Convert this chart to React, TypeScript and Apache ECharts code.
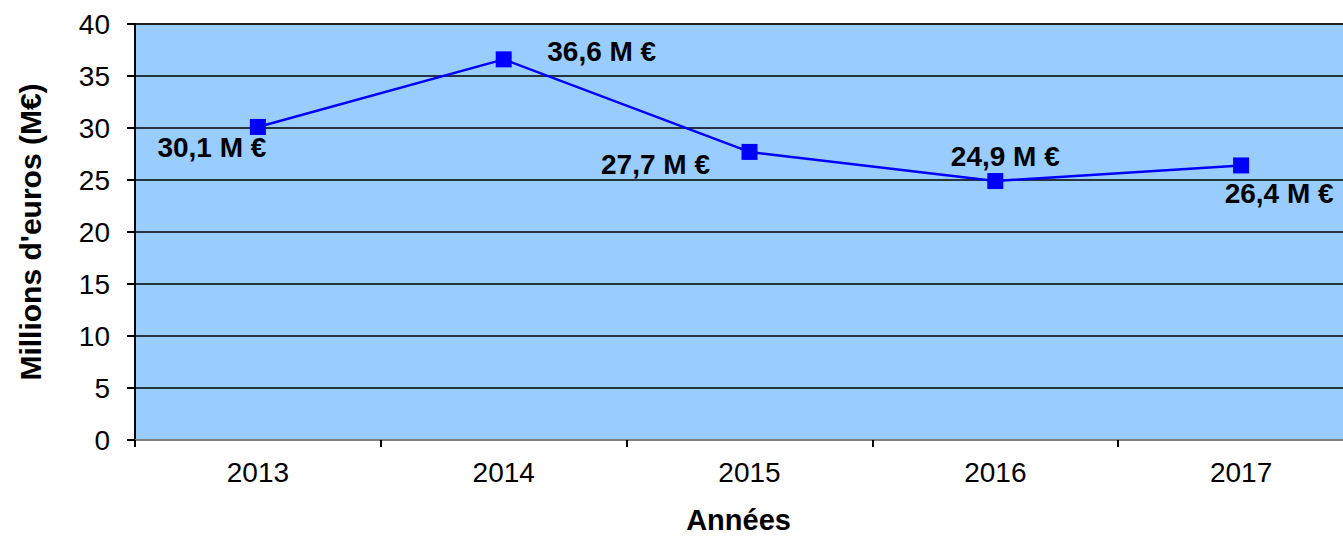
import React, { useEffect, useRef } from "react";
import * as echarts from "echarts";

const categories = ["2013", "2014", "2015", "2016", "2017"];
const values = [30.1, 36.6, 27.7, 24.9, 26.4];
const labels = ["30,1 M €", "36,6 M €", "27,7 M €", "24,9 M €", "26,4 M €"];
const labelOffsets: [number, number][] = [
  [-46, 21],
  [98, -8],
  [-94, 13],
  [10, -25],
  [38, 28],
];
const yTicks = { min: 0, max: 40, interval: 5 };

const FONT = "'Liberation Sans', Arial, sans-serif";

export default function App() {
  const ref = useRef<HTMLDivElement>(null);
  useEffect(() => {
    if (!ref.current) return;
    const chart = echarts.init(ref.current, undefined, { renderer: "svg" });
    chart.setOption({
      animation: false,
      backgroundColor: "#ffffff",
      grid: {
        left: 135,
        top: 24,
        width: 1229,
        height: 416,
        show: true,
        backgroundColor: "#99CCFF",
        borderColor: "#808080",
        borderWidth: 2,
        containLabel: false,
        outerBoundsMode: "none",
      },
      xAxis: {
        type: "category",
        data: categories,
        boundaryGap: true,
        name: "Années",
        nameLocation: "middle",
        nameGap: 65,
        nameTextStyle: {
          fontFamily: FONT,
          fontSize: 29,
          fontWeight: "bold",
          color: "#000",
          padding: [0, 22, 0, 0],
        },
        axisLine: { show: true, lineStyle: { color: "#808080", width: 2 } },
        axisTick: { show: true, length: 7, interval: 0, lineStyle: { color: "#000", width: 2 } },
        axisLabel: { fontFamily: FONT, fontSize: 28, color: "#000", margin: 18 },
        splitLine: { show: false },
      },
      yAxis: {
        type: "value",
        min: yTicks.min,
        max: yTicks.max,
        interval: yTicks.interval,
        name: "Millions d'euros (M€)",
        nameLocation: "middle",
        nameGap: 90,
        nameTextStyle: { fontFamily: FONT, fontSize: 30, fontWeight: "bold", color: "#000" },
        axisLine: { show: true, lineStyle: { color: "#000", width: 2 } },
        axisTick: { show: true, length: 8, lineStyle: { color: "#000", width: 2 } },
        axisLabel: { fontFamily: FONT, fontSize: 28, color: "#000", margin: 25 },
        splitLine: { show: true, lineStyle: { color: "#000", width: 1.5 } },
      },
      series: [
        {
          type: "line",
          data: values.map((v, i) => ({
            value: v,
            label: {
              show: true,
              position: "inside",
              offset: labelOffsets[i],
              formatter: labels[i],
            },
          })),
          symbol: "rect",
          symbolSize: 16,
          lineStyle: { color: "#0000FF", width: 2.5 },
          itemStyle: { color: "#0000FF" },
          label: {
            show: true,
            fontFamily: FONT,
            fontSize: 28,
            fontWeight: "bold",
            color: "#000",
            align: "center",
            verticalAlign: "middle",
          },
        },
      ],
    });
    return () => chart.dispose();
  }, []);
  return (
    <div
      ref={ref}
      style={{ position: "absolute", left: 0, top: 0, width: 1343, height: 536 }}
    />
  );
}
